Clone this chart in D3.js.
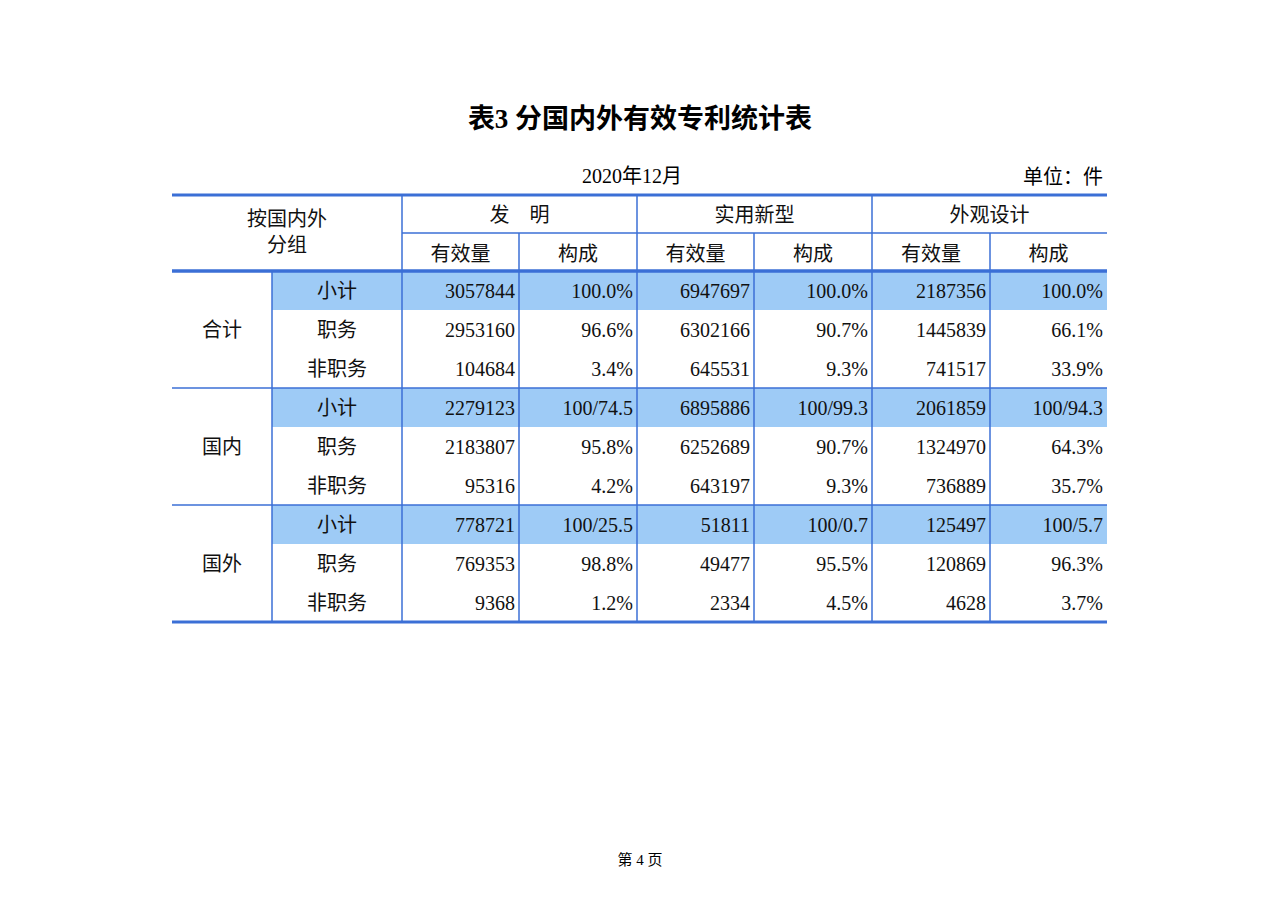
<!DOCTYPE html><html><head><meta charset="utf-8">
<script src="https://cdn.jsdelivr.net/npm/d3@7"></script>
<style>body{margin:0;background:#fff}</style></head><body><svg id="c" width="1280" height="904"></svg>
<script>
const groups=["合计","国内","国外"];
const subRows=["小计","职务","非职务"];
const types=["发　明","实用新型","外观设计"];
const subCols=["有效量","构成"];
const counts=[
 [3057844,6947697,2187356],[2953160,6302166,1445839],[104684,645531,741517],
 [2279123,6895886,2061859],[2183807,6252689,1324970],[95316,643197,736889],
 [778721,51811,125497],[769353,49477,120869],[9368,2334,4628]];
const shares=[
 ["100.0%","100.0%","100.0%"],["96.6%","90.7%","66.1%"],["3.4%","9.3%","33.9%"],
 ["100/74.5","100/99.3","100/94.3"],["95.8%","90.7%","64.3%"],["4.2%","9.3%","35.7%"],
 ["100/25.5","100/0.7","100/5.7"],["98.8%","95.5%","96.3%"],["1.2%","4.5%","3.7%"]];
(function(){
const svg=d3.select("#c");
const serif="'Liberation Serif','Noto Sans CJK SC',serif";
const blue="#3b6fd6",fill="#9ecbf6";
const colX=[172,272,402,519,637,754,872,990,1107];
const topY=195,hMid=233,hBot=271,rowH=39;
const y=d3.scaleBand().domain(d3.range(9)).range([hBot,hBot+9*rowH]);
svg.append("text").attr("x",640).attr("y",128).attr("text-anchor","middle").attr("font-family",serif).attr("font-weight","bold").attr("font-size",27).text("表3  分国内外有效专利统计表");
svg.append("text").attr("x",632).attr("y",183).attr("text-anchor","middle").attr("font-family",serif).attr("font-size",20).text("2020年12月");
svg.append("text").attr("x",1103).attr("y",184).attr("text-anchor","end").attr("font-family",serif).attr("font-size",20).text("单位：件");
svg.append("text").attr("x",640).attr("y",865).attr("text-anchor","middle").attr("font-family",serif).attr("font-size",15).text("第 4 页");
d3.range(3).forEach(g=>svg.append("rect").attr("x",colX[1]).attr("y",y(g*3)).attr("width",colX[8]-colX[1]).attr("height",rowH).attr("fill",fill));
const T=(x,yy,t,a="middle")=>svg.append("text").attr("x",x).attr("y",yy).attr("text-anchor",a).attr("font-family",serif).attr("font-size",20).attr("fill","#111").text(t);
T(287,226,"按国内外");T(287,252,"分组");
types.forEach((t,i)=>T((colX[2+2*i]+colX[4+2*i])/2,222,t));
for(let i=0;i<6;i++)T((colX[2+i]+colX[3+i])/2,261,subCols[i%2]);
groups.forEach((g,i)=>T(222,y(i*3+1)+rowH/2+7,g));
d3.range(9).forEach(r=>{
 const cy=y(r)+rowH/2+7;
 T(337,cy,subRows[r%3]);
 for(let k=0;k<3;k++){T(colX[3+2*k]-4,cy,counts[r][k],"end");T(colX[4+2*k]-4,cy,shares[r][k],"end");}
});
const L=(x1,y1,x2,y2,w)=>svg.append("line").attr("x1",x1).attr("y1",y1).attr("x2",x2).attr("y2",y2).attr("stroke",blue).attr("stroke-width",w);
const bot=hBot+9*rowH;
L(172,topY,1107,topY,3);L(402,hMid,1107,hMid,1.5);L(172,hBot,1107,hBot,3.5);
L(172,y(3),1107,y(3),1.5);L(172,y(6),1107,y(6),1.5);L(172,bot,1107,bot,3);
[2,4,6].forEach(i=>L(colX[i],topY,colX[i],bot,1.5));
[3,5,7].forEach(i=>L(colX[i],hMid,colX[i],bot,1.5));
L(colX[1],hBot,colX[1],bot,1.5);
})();
</script></body></html>
